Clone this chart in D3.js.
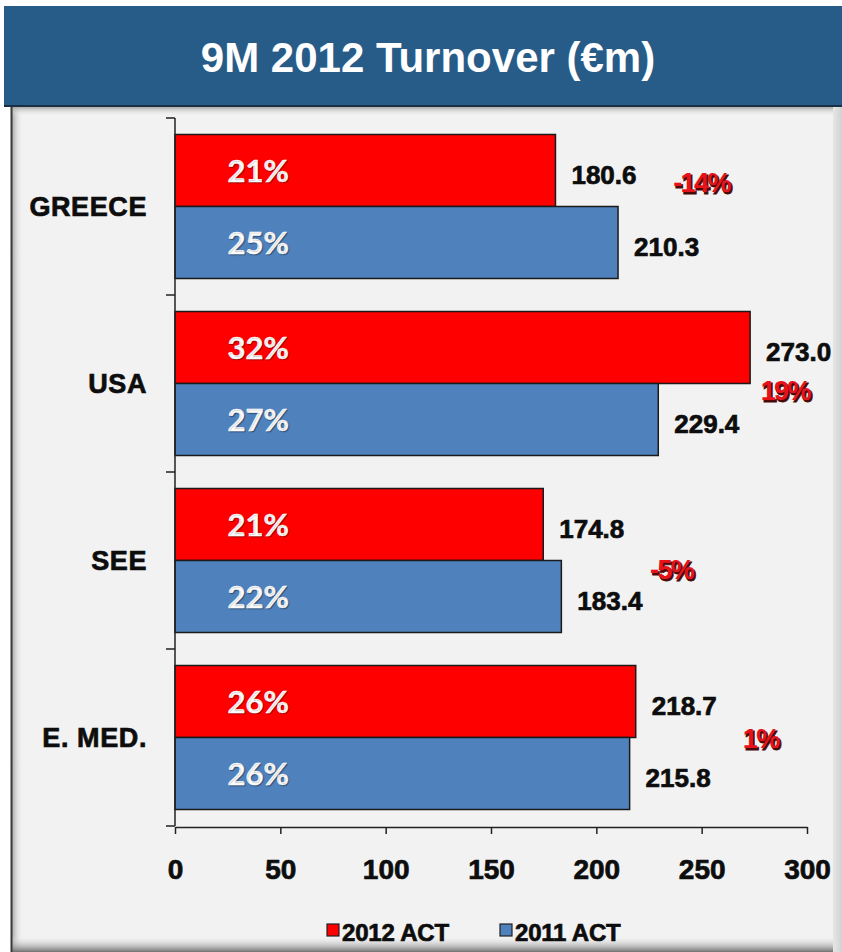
<!DOCTYPE html>
<html>
<head>
<meta charset="utf-8">
<script src="https://cdn.jsdelivr.net/npm/d3@7"></script>
<style>
  html, body { margin: 0; padding: 0; background: #ffffff; }
  svg { display: block; }
</style>
</head>
<body>
<svg id="chart" width="842" height="952"></svg>
<script>
// Regions and turnover (€m) for the two periods
const regions = ["GREECE", "USA", "SEE", "E. MED."];
const turnover2012 = [180.6, 273.0, 174.8, 218.7];
const turnover2011 = [210.3, 229.4, 183.4, 215.8];
const seriesNames = ["2012 ACT", "2011 ACT"];
const xTicks = [0, 50, 100, 150, 200, 250, 300];

// Where each year-on-year change label sits: x in €m, dy from the gap between the two bars
const changeLabelX = [236.5, 278, 225.5, 269.5];
const changeLabelDy = [-24, 7, 9, 1];

const colors = { "2012 ACT": "#ff0000", "2011 ACT": "#4f81bd" };

const svg = d3.select("#chart");
const W = 842, H = 952;

const defs = svg.append("defs");

// soft shading along the edges of the panel
const gl = defs.append("linearGradient").attr("id", "leftShade").attr("x1", 0).attr("x2", 1).attr("y1", 0).attr("y2", 0);
gl.append("stop").attr("offset", 0).attr("stop-color", "#9a9a9a");
gl.append("stop").attr("offset", 1).attr("stop-color", "#f2f2f2").attr("stop-opacity", 0);
const gb = defs.append("linearGradient").attr("id", "bottomShade").attr("x1", 0).attr("x2", 0).attr("y1", 0).attr("y2", 1);
gb.append("stop").attr("offset", 0).attr("stop-color", "#f2f2f2").attr("stop-opacity", 0);
gb.append("stop").attr("offset", 1).attr("stop-color", "#707070");
const gt = defs.append("linearGradient").attr("id", "topShade").attr("x1", 0).attr("x2", 0).attr("y1", 0).attr("y2", 1);
gt.append("stop").attr("offset", 0).attr("stop-color", "#9a9a9a");
gt.append("stop").attr("offset", 1).attr("stop-color", "#f2f2f2").attr("stop-opacity", 0);
const gr = defs.append("linearGradient").attr("id", "rightShade").attr("x1", 0).attr("x2", 1).attr("y1", 0).attr("y2", 0);
gr.append("stop").attr("offset", 0).attr("stop-color", "#e6e6e6");
gr.append("stop").attr("offset", 1).attr("stop-color", "#d2d2d2");

// panel
svg.append("rect").attr("x", 11).attr("y", 106).attr("width", W - 11).attr("height", H - 106).attr("fill", "#f2f2f2");
svg.append("rect").attr("x", 11).attr("y", 106).attr("width", 12).attr("height", H - 106).attr("fill", "url(#leftShade)");
svg.append("rect").attr("x", 11).attr("y", 106).attr("width", W - 11).attr("height", 10).attr("fill", "url(#topShade)");
svg.append("rect").attr("x", 11).attr("y", 936).attr("width", W - 11).attr("height", 16).attr("fill", "url(#bottomShade)");
svg.append("rect").attr("x", 833).attr("y", 106).attr("width", 9).attr("height", H - 106).attr("fill", "url(#rightShade)");
svg.append("line").attr("x1", 11.5).attr("x2", 11.5).attr("y1", 106).attr("y2", H).attr("stroke", "#3a3a3a").attr("stroke-width", 2);

// title band
svg.append("rect").attr("x", 4).attr("y", 6).attr("width", W - 4).attr("height", 100).attr("fill", "#275c89");
svg.append("line").attr("x1", 4).attr("x2", W).attr("y1", 106).attr("y2", 106).attr("stroke", "#1b2f44").attr("stroke-width", 2);
svg.append("text")
  .attr("x", 428).attr("y", 72)
  .attr("text-anchor", "middle")
  .attr("font-family", "'Liberation Sans', Arial, sans-serif")
  .attr("font-weight", "bold")
  .attr("font-size", 42)
  .attr("fill", "#ffffff")
  .text("9M 2012 Turnover (€m)");

// heavier black text, as in the slide
const heavy = sel => sel
  .attr("font-family", "'Liberation Sans', Arial, sans-serif")
  .attr("font-weight", "bold")
  .attr("fill", "#0d0d0d")
  .attr("stroke", "#0d0d0d")
  .attr("stroke-width", 0.7);

// scales
const x = d3.scaleLinear().domain([0, 300]).range([175, 807]);
const y = d3.scaleBand().domain(regions).range([118, 826]).paddingInner(0.1864).paddingOuter(0.0932);
const ySub = d3.scaleBand().domain(seriesNames).range([0, y.bandwidth()]);

const rows = regions.map((r, i) => ({
  region: r,
  values: [
    { key: "2012 ACT", value: turnover2012[i], total: d3.sum(turnover2012) },
    { key: "2011 ACT", value: turnover2011[i], total: d3.sum(turnover2011) }
  ],
  change: (turnover2012[i] - turnover2011[i]) / turnover2011[i],
  labelX: changeLabelX[i],
  labelDy: changeLabelDy[i]
}));

const groups = svg.append("g").selectAll("g").data(rows).join("g")
  .attr("transform", d => `translate(0,${y(d.region)})`);

groups.selectAll("rect").data(d => d.values).join("rect")
  .attr("x", x(0))
  .attr("y", d => ySub(d.key))
  .attr("width", d => x(d.value) - x(0))
  .attr("height", ySub.bandwidth())
  .attr("fill", d => colors[d.key])
  .attr("stroke", "#1a1a1a")
  .attr("stroke-width", 1.5);

// share of total inside each bar
groups.selectAll("text.share").data(d => d.values).join("text")
  .attr("class", "share")
  .attr("x", x(39.5))
  .attr("y", d => ySub(d.key) + ySub.bandwidth() / 2)
  .attr("dy", "0.36em")
  .attr("text-anchor", "middle")
  .attr("font-family", "Lato, 'Open Sans', sans-serif")
  .attr("font-weight", "bold")
  .attr("font-size", 31)
  .attr("fill", "#ffffff")
  .attr("stroke", "#ffffff")
  .attr("stroke-width", 0.5)
  .style("text-shadow", "1px 1px 1px rgba(0,0,0,0.35)")
  .text(d => Math.round(d.value / d.total * 100) + "%");

// value labels
groups.selectAll("text.value").data(d => d.values).join("text")
  .attr("class", "value")
  .attr("x", d => x(d.value) + 16)
  .attr("y", d => ySub(d.key) + ySub.bandwidth() / 2 + 4)
  .attr("dy", "0.36em")
  .attr("font-size", 26)
  .call(heavy)
  .text(d => d3.format(".1f")(d.value));

// year-on-year change
const changeText = d => Math.round(d.change * 100) + "%";
const changeStyle = sel => sel
  .attr("dy", "0.36em")
  .attr("font-family", "'Liberation Sans', Arial, sans-serif")
  .attr("font-weight", "bold")
  .attr("font-size", 27)
  .attr("letter-spacing", -1.6);
groups.append("text")
  .attr("x", d => x(d.labelX) + 1.5)
  .attr("y", d => ySub("2011 ACT") + d.labelDy + 1.5)
  .call(changeStyle)
  .attr("fill", "#4a0808")
  .attr("stroke", "#4a0808").attr("stroke-width", 0.8)
  .text(changeText);
groups.append("text")
  .attr("x", d => x(d.labelX))
  .attr("y", d => ySub("2011 ACT") + d.labelDy)
  .call(changeStyle)
  .attr("fill", "#e8121a")
  .text(changeText);

// category axis: ticks on the boundaries between regions
const boundaries = regions.map(r => y(r) - y.step() * y.paddingInner() / 2).concat([826]);
const yAxis = svg.append("g");
yAxis.append("line").attr("x1", x(0)).attr("x2", x(0)).attr("y1", 118).attr("y2", 826)
  .attr("stroke", "#222").attr("stroke-width", 1.5);
yAxis.selectAll("line.tick").data(boundaries).join("line")
  .attr("class", "tick")
  .attr("x1", x(0) - 9).attr("x2", x(0))
  .attr("y1", d => d).attr("y2", d => d)
  .attr("stroke", "#222").attr("stroke-width", 1.5);
yAxis.selectAll("text").data(regions).join("text")
  .attr("x", 147)
  .attr("y", d => y(d) + y.bandwidth() / 2)
  .attr("dy", "0.36em")
  .attr("text-anchor", "end")
  .attr("font-size", 27)
  .attr("letter-spacing", 0.6)
  .call(heavy)
  .text(d => d);

// value axis
const xAxis = svg.append("g")
  .attr("transform", "translate(0,827)")
  .call(d3.axisBottom(x).tickValues(xTicks).tickSize(7).tickSizeOuter(0).tickPadding(25));
xAxis.select(".domain").attr("stroke", "#222").attr("stroke-width", 1.5);
xAxis.selectAll(".tick line").attr("stroke", "#222").attr("stroke-width", 1.5);
xAxis.selectAll(".tick text")
  .attr("font-size", 28)
  .call(heavy);

// legend
const legendX = [327, 500];
const legend = svg.append("g").selectAll("g").data(seriesNames).join("g")
  .attr("transform", (d, i) => `translate(${legendX[i]},924)`);
legend.append("rect")
  .attr("width", 12).attr("height", 12)
  .attr("fill", d => colors[d])
  .attr("stroke", "#222").attr("stroke-width", 1.2);
legend.append("text")
  .attr("x", 15).attr("y", 17)
  .attr("font-size", 24)
  .attr("letter-spacing", -0.2)
  .call(heavy)
  .text(d => d);
</script>
</body>
</html>
